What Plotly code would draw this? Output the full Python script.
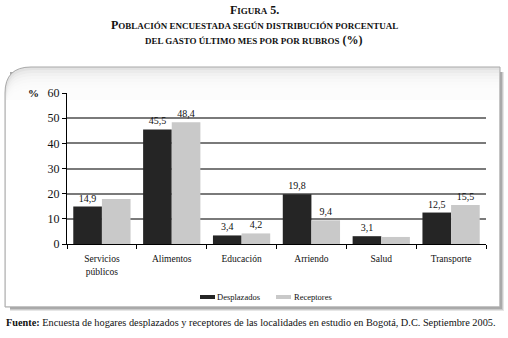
import plotly.graph_objects as go

categories = ["Servicios<br>públicos", "Alimentos", "Educación", "Arriendo", "Salud", "Transporte"]
desplazados = [14.9, 45.5, 3.4, 19.8, 3.1, 12.5]
receptores = [17.9, 48.4, 4.2, 9.4, 2.8, 15.5]
desplazados_labels = ["14,9", "45,5", "3,4", "19,8", "3,1", "12,5"]
receptores_labels = ["", "48,4", "4,2", "9,4", "", "15,5"]
yticks = [0, 10, 20, 30, 40, 50, 60]

W, H = 508, 338
L, R, T, B = 67, 22, 93, 94
PW, PH = W - L - R, H - T - B
SERIF = "Liberation Serif, Times New Roman, DejaVu Serif, serif"


def px(x):
    return (x - L) / PW


def py(y):
    return (H - B - y) / PH


fig = go.Figure()
fig.add_trace(go.Bar(x=categories, y=desplazados, name="Desplazados",
                     marker=dict(color="#252525", line=dict(width=0)),
                     text=desplazados_labels, textposition="outside",
                     textfont=dict(family=SERIF, size=10, color="#111"),
                     cliponaxis=False, showlegend=False))
fig.add_trace(go.Bar(x=categories, y=receptores, name="Receptores",
                     marker=dict(color="#c9c9c9", line=dict(width=0)),
                     text=receptores_labels, textposition="outside",
                     textfont=dict(family=SERIF, size=10, color="#111"),
                     cliponaxis=False, showlegend=False))

shapes = []


def card_path(x0, y0, x1, y1, r):
    return (f"M {px(x0)},{py(y1)} L {px(x0)},{py(y0 + r)} "
            f"Q {px(x0)},{py(y0)} {px(x0 + r)},{py(y0)} "
            f"L {px(x1)},{py(y0)} L {px(x1)},{py(y1)} Z")


# shadow
for i, op in enumerate([0.15, 0.2, 0.28]):
    d = 4 - i
    shapes.append(dict(type="rect", xref="paper", yref="paper", layer="below",
                       x0=px(10), x1=px(500 + d), y0=py(307 + d), y1=py(72),
                       fillcolor=f"rgba(90,90,90,{op})", line=dict(width=0)))
# card base (gray top gradient)
shapes.append(dict(type="path", xref="paper", yref="paper", layer="below",
                   path=card_path(5, 67, 500, 307, 26),
                   fillcolor="#e2e2e2", line=dict(color="#a8a8a8", width=1)))
for k in range(1, 8):
    shapes.append(dict(type="path", xref="paper", yref="paper", layer="below",
                       path=card_path(6, 67 + 3 * k, 499, 306, 26),
                       fillcolor="rgba(255,255,255,0.3)", line=dict(width=0)))
shapes.append(dict(type="rect", xref="paper", yref="paper", layer="below",
                   x0=px(6), x1=px(499), y0=py(306), y1=py(100),
                   fillcolor="white", line=dict(width=0)))
# legend swatches
shapes.append(dict(type="rect", xref="paper", yref="paper",
                   x0=px(200), x1=px(215), y0=py(299), y1=py(295),
                   fillcolor="#252525", line=dict(width=0)))
shapes.append(dict(type="rect", xref="paper", yref="paper",
                   x0=px(276), x1=px(291), y0=py(299), y1=py(295),
                   fillcolor="#c9c9c9", line=dict(width=0)))

sc = "font-size:9px"
annotations = [
    dict(text=f"<b>F<span style='{sc}'>IGURA</span> 5.</b>", x=0.5, y=10),
    dict(text=f"<b>P<span style='{sc}'>OBLACIÓN ENCUESTADA SEGÚN DISTRIBUCIÓN PORCENTUAL</span></b>", x=0.5, y=25),
    dict(text=f"<b><span style='{sc}'>DEL GASTO ÚLTIMO MES POR POR RUBROS</span> (%)</b>", x=0.5, y=40),
]
anns = []
for a in annotations:
    anns.append(dict(text=a["text"], xref="paper", yref="paper",
                     x=(W / 2 - L) / PW, y=py(a["y"]), xanchor="center", yanchor="middle",
                     showarrow=False, font=dict(family=SERIF, size=12, color="#111")))
anns.append(dict(text="<b>%</b>", xref="paper", yref="paper", x=px(33), y=py(93),
                 xanchor="center", yanchor="middle", showarrow=False,
                 font=dict(family=SERIF, size=11, color="#111")))
anns.append(dict(text="Desplazados", xref="paper", yref="paper", x=px(215), y=py(297),
                 xanchor="left", yanchor="middle", showarrow=False,
                 font=dict(family=SERIF, size=8.5, color="#111")))
anns.append(dict(text="Receptores", xref="paper", yref="paper", x=px(292), y=py(297),
                 xanchor="left", yanchor="middle", showarrow=False,
                 font=dict(family=SERIF, size=8.5, color="#111")))
anns.append(dict(text="<b>Fuente:</b> Encuesta de hogares desplazados y receptores de las localidades en estudio en Bogotá, D.C. Septiembre 2005.",
                 xref="paper", yref="paper", x=px(4), y=py(322),
                 xanchor="left", yanchor="middle", showarrow=False,
                 font=dict(family=SERIF, size=10.3, color="#111")))

fig.update_layout(
    width=W, height=H,
    margin=dict(l=L, r=R, t=T, b=B, pad=0),
    paper_bgcolor="white", plot_bgcolor="rgba(0,0,0,0)",
    barmode="group", bargap=0.18, bargroupgap=0,
    shapes=shapes, annotations=anns,
    font=dict(family=SERIF, color="#111"),
    xaxis=dict(showline=True, linecolor="black", linewidth=1,
               ticks="outside", ticklen=4, tickcolor="black", tickson="boundaries",
               ticklabelstandoff=6,
               tickfont=dict(family=SERIF, size=9.5, color="#111"),
               showgrid=False, zeroline=False),
    yaxis=dict(range=[0, 60], tickvals=yticks, showline=True, linecolor="black", linewidth=1,
               ticks="outside", ticklen=4, tickcolor="black",
               tickfont=dict(family=SERIF, size=12, color="#111"),
               showgrid=True, gridcolor="#7a7a7a", gridwidth=1.8, zeroline=False),
)

fig.write_html("out.html", config={"displayModeBar": False},
               post_script="document.body.style.margin='0';document.body.style.overflow='hidden';")
